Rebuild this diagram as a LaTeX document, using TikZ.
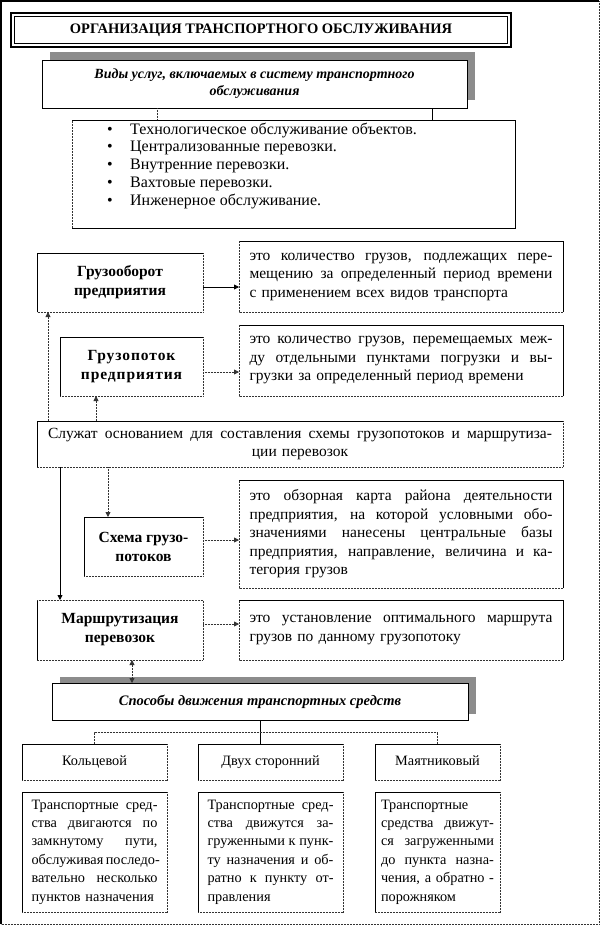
\documentclass[tikz,border=0pt]{standalone}
\usepackage{fontspec}
\setmainfont{Liberation Serif}
\usetikzlibrary{arrows.meta,shadows}
\newcommand\jl[1]{\makebox[\hsize][s]{\spaceskip=0pt\xspaceskip=0pt\relax #1}\\}
\newcommand\fr{\fontsize{15.5}{18.5}\selectfont}
\newcommand\fs{\fontsize{14.3}{18.4}\selectfont}
\newcommand\fb{\bfseries\fontsize{15.5}{19}\selectfont}
\newcommand\edTL[1]{\draw[sol] (#1.south west) -- (#1.north west) -- (#1.north east);
  \draw[dotln] (#1.north east) -- (#1.south east) -- (#1.south west);}
\newcommand\edTR[1]{\draw[sol] (#1.north west) -- (#1.north east) -- (#1.south east);
  \draw[dotln] (#1.south east) -- (#1.south west) -- (#1.north west);}
\tikzset{
  rbox/.style={anchor=north west, inner sep=0pt, outer sep=0pt, fill=white, align=center},
  sol/.style={line width=0.8pt, black},
  dotln/.style={line width=0.9pt, black!80, dash pattern=on 0.8pt off 0.7pt},
  arr/.style={-{Triangle[length=5pt,width=5pt]}, line width=0.8pt},
  darr/.style={{Triangle[length=5pt,width=5pt]}-{Triangle[length=5pt,width=5pt]}, line width=0.8pt},
  shad/.style={drop shadow={shadow xshift=7.5pt, shadow yshift=#1, fill=black!45, opacity=1}},
}
\begin{document}
\begin{tikzpicture}[x=1pt,y=-1pt]
\useasboundingbox (0,0) rectangle (602,926);
% outer frame
\draw[line width=1.6pt] (1,924) -- (1,1) -- (599,1);
\draw[dotln] (599,1) -- (599,924) -- (1,924);

% title
\node[rbox, draw, line width=2pt, minimum width=500, minimum height=34,
      font=\bfseries\fontsize{14.5}{17}\selectfont] (title) at (11,13)
      {ОРГАНИЗАЦИЯ ТРАНСПОРТНОГО ОБСЛУЖИВАНИЯ};
\draw[line width=0.8pt] ([shift={(3.5,3.5)}]title.north west) rectangle ([shift={(-3.5,-3.5)}]title.south east);

% kinds of services
\node[rbox, draw, line width=0.8pt, shad=8pt, minimum width=425, minimum height=48,
      font=\bfseries\itshape\fontsize{14}{17}\selectfont] (vid) at (42,60)
      {Виды услуг, включаемых в систему транспортного\\обслуживания};

% bullet box
\node[rbox, minimum width=443, minimum height=108] (bul) at (72,120) {};
\draw[sol] (bul.north west) -- (bul.north east) -- (bul.south east) -- (bul.south west);
\draw[dotln] (bul.south west) -- (bul.north west);
\node[anchor=north west, inner sep=0pt, align=left, font=\fontsize{16}{17.8}\selectfont] (bult) at (105,122.5)
 {\makebox[25pt][l]{\hspace{2pt}•}Технологическое обслуживание объектов.\\
  \makebox[25pt][l]{\hspace{2pt}•}Централизованные перевозки.\\
  \makebox[25pt][l]{\hspace{2pt}•}Внутренние перевозки.\\
  \makebox[25pt][l]{\hspace{2pt}•}Вахтовые перевозки.\\
  \makebox[25pt][l]{\hspace{2pt}•}Инженерное обслуживание.};
\coordinate (v1) at ([xshift=115pt]vid.south west);
\coordinate (v2) at ([xshift=390pt]vid.south west);
\draw[dotln] (v1) -- (v1 |- bul.north);
\draw[sol] (v2) -- (v2 |- bul.north);

% left column
\node[rbox, minimum width=166, minimum height=59, font=\fb] (gob) at (37,253) {Грузооборот\\предприятия};
\edTL{gob}
\node[rbox, minimum width=143, minimum height=59, font=\fb] (gp) at (60,337) {\addfontfeature{LetterSpace=6}Грузопоток\\\addfontfeature{LetterSpace=6}предприятия};
\edTL{gp}
\node[rbox, minimum width=526, minimum height=46, text width=504, font=\fr] (sl) at (37,421)
 {\jl{Служат основанием для составления схемы грузопотоков и маршрутиза-}ции перевозок};
\edTL{sl}
\node[rbox, minimum width=119, minimum height=59, font=\fb] (sx) at (84,517) {Схема грузо-\\потоков};
\edTL{sx}
\node[rbox, minimum width=166, minimum height=60, font=\fb] (mr) at (37,600) {Маршрутизация\\перевозок};
\draw[sol] (mr.south west) -- (mr.north west);
\draw[dotln] (mr.north west) -- (mr.north east) -- (mr.south east) -- (mr.south west);

% right descriptions
\node[rbox, minimum width=324, minimum height=71, text width=303, align=left, font=\fr] (d1) at (239,241)
 {\jl{это количество грузов, подлежащих пере-}\jl{мещению за определенный период времени}с применением всех видов транспорта};
\edTR{d1}
\node[rbox, minimum width=324, minimum height=71, text width=303, align=left, font=\fr] (d2) at (239,325)
 {\jl{это количество грузов, перемещаемых меж-}\jl{ду отдельными пунктами погрузки и вы-}грузки за определенный период времени};
\edTR{d2}
\node[rbox, minimum width=324, minimum height=108, text width=303, align=left, font=\fr] (d3) at (239,480)
 {\jl{это обзорная карта района деятельности}\jl{предприятия, на которой условными обо-}\jl{значениями нанесены центральные базы}\jl{предприятия, направление, величина и ка-}тегория грузов};
\edTR{d3}
\node[rbox, minimum width=324, minimum height=60, text width=303, align=left, font=\fr] (d4) at (239,600)
 {\jl{это установление оптимального маршрута}грузов по данному грузопотоку};
\edTR{d4}

% horizontal arrows
\draw[sol, arr] ([yshift=-4.5pt]gob.east) -- ([yshift=-4.5pt]gob.east -| d1.west);
\draw[dotln, arr] ([yshift=-5.5pt]gp.east) -- ([yshift=-5.5pt]gp.east -| d2.west);
\draw[dotln, arr] ([yshift=6.5pt]sx.east) -- ([yshift=6.5pt]sx.east -| d3.west);
\draw[dotln, arr] ([yshift=6pt]mr.east) -- ([yshift=6pt]mr.east -| d4.west);

% vertical arrows
\coordinate (a1) at ([xshift=11pt]gob.south west);
\draw[dotln, arr] (a1 |- sl.north) -- (a1);
\coordinate (a2) at ([xshift=36pt]gp.south west);
\draw[dotln, arr] (a2 |- sl.north) -- (a2);
\coordinate (a3) at ([xshift=23pt]mr.north west);
\draw[sol, arr] (a3 |- sl.south) -- (a3);
\coordinate (a4) at ([xshift=24pt]sx.north west);
\draw[dotln, arr] (a4 |- sl.south) -- (a4);

% ways of movement
\node[rbox, draw, line width=0.8pt, shad=6pt, minimum width=416, minimum height=37,
      font=\bfseries\itshape\fontsize{14.5}{17}\selectfont] (sp) at (52,683)
      {Способы движения транспортных средств};
\coordinate (a5) at ([xshift=95pt]mr.south west);
\draw[dotln, darr] (a5) -- (a5 |- sp.north);

\node[rbox, minimum width=145, minimum height=36, text height=10pt, text depth=3pt, font=\fs] (k1) at (22,744) {Кольцевой};
\edTL{k1}
\node[rbox, minimum width=145, minimum height=36, text height=10pt, text depth=3pt, font=\fs] (k2) at (198,744) {Двух сторонний};
\edTL{k2}
\node[rbox, minimum width=125, minimum height=36, text height=10pt, text depth=3pt, font=\fs] (k3) at (375,744) {Маятниковый};
\edTL{k3}

\coordinate (bus) at (0,732);
\draw[sol] (sp.south) -- (sp.south |- k2.north);
\draw[dotln] (k1.north) -- (k1.north |- bus) -- (k3.north |- bus) -- (k3.north);

\node[rbox, minimum width=145, minimum height=120, text width=126, align=left, font=\fs] (t1) at (22,792)
 {\jl{Транспортные сред-}\jl{ства двигаются по}\jl{замкнутому пути,}\jl{обслуживая последо-}\jl{вательно несколько}пунктов назначения};
\edTL{t1}
\node[rbox, minimum width=145, minimum height=120, text width=126, align=left, font=\fs] (t2) at (198,792)
 {\jl{Транспортные сред-}\jl{ства движутся за-}\jl{груженными к пунк-}\jl{ту назначения и об-}\jl{ратно к пункту от-}правления};
\edTL{t2}
\node[rbox, minimum width=125, minimum height=120, text width=113, align=left, font=\fs] (t3) at (375,792)
 {Транспортные\\\jl{средства движут-}\jl{ся загруженными}\jl{до пункта назна-}\jl{чения, а обратно -}порожняком};
\edTL{t3}
\end{tikzpicture}
\end{document}
